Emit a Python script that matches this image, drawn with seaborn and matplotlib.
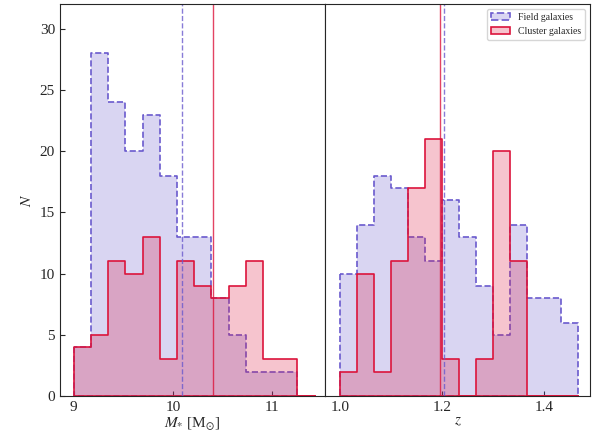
import numpy as np
import pandas as pd
import matplotlib.pyplot as plt
import seaborn as sns

# 恒星質量のビン（左パネル）
mass_edges = list(np.linspace(9.0, 11.43, 15))
mass_field = [4, 28, 24, 20, 23, 18, 13, 13, 8, 5, 2, 2, 2, 0]
mass_cluster = [4, 5, 11, 10, 13, 3, 11, 9, 8, 9, 11, 3, 3, 0]
mass_med_field = 10.09
mass_med_cluster = 10.41

# 赤方偏移のビン（右パネル）
z_edges = list(np.linspace(1.0, 1.4667, 15))
z_field = [10, 14, 18, 17, 13, 11, 16, 13, 9, 5, 14, 8, 8, 6]
z_cluster = [2, 10, 2, 11, 17, 21, 3, 0, 3, 20, 11, 0, 0, 0]
z_med_field = 1.204
z_med_cluster = 1.196

field_col = '#6a5acd'
cluster_col = '#dc143c'

sns.set_style('ticks')
plt.rcParams['font.family'] = ['Liberation Serif', 'DejaVu Serif']
plt.rcParams['mathtext.fontset'] = 'stix'
plt.rcParams['font.size'] = 11
plt.rcParams['xtick.labelsize'] = 11
plt.rcParams['ytick.labelsize'] = 11
plt.rcParams['xtick.direction'] = 'in'
plt.rcParams['ytick.direction'] = 'in'

fig, axes = plt.subplots(1, 2, figsize=(5.99, 4.45), dpi=100, sharey=True)
fig.subplots_adjust(left=0.1, right=0.985, top=0.99, bottom=0.11, wspace=0)

panels = [
    (axes[0], mass_edges, mass_field, mass_cluster, mass_med_field, mass_med_cluster),
    (axes[1], z_edges, z_field, z_cluster, z_med_field, z_med_cluster),
]
for ax, edges, field, cluster, mf, mc in panels:
    e = np.array(edges)
    centers = (e[:-1] + e[1:]) / 2
    df = pd.DataFrame({'x': centers, 'field': field, 'cluster': cluster})
    sns.histplot(data=df, x='x', weights='field', bins=edges, element='step',
                 color=field_col, alpha=0.25, linestyle='--', linewidth=1.2,
                 ax=ax, label='Field galaxies')
    sns.histplot(data=df, x='x', weights='cluster', bins=edges, element='step',
                 color=cluster_col, alpha=0.25, linewidth=1.2,
                 ax=ax, label='Cluster galaxies')
    # 境界線の色を明示
    for coll, col in zip(ax.collections, [field_col, cluster_col]):
        coll.set_edgecolor(col)
    ax.axvline(mf, color=field_col, ls='--', lw=1, alpha=0.8)
    ax.axvline(mc, color=cluster_col, ls='-', lw=1, alpha=0.8)
    ax.set_ylabel('')

axes[0].set_xlim(8.86, 11.535)
axes[1].set_xlim(0.971, 1.490)
axes[0].set_ylim(0, 32)
axes[0].set_xticks([9, 10, 11])
axes[1].set_xticks([1.0, 1.2, 1.4])
axes[0].set_xlabel(r'$M_{*}$ [M$_{\odot}$]', labelpad=1)
axes[1].set_xlabel(r'$z$', labelpad=1)
axes[0].set_ylabel(r'$N$')
axes[1].tick_params(left=False)
axes[1].legend(loc='upper right', fontsize=7)

plt.savefig('out.png')
